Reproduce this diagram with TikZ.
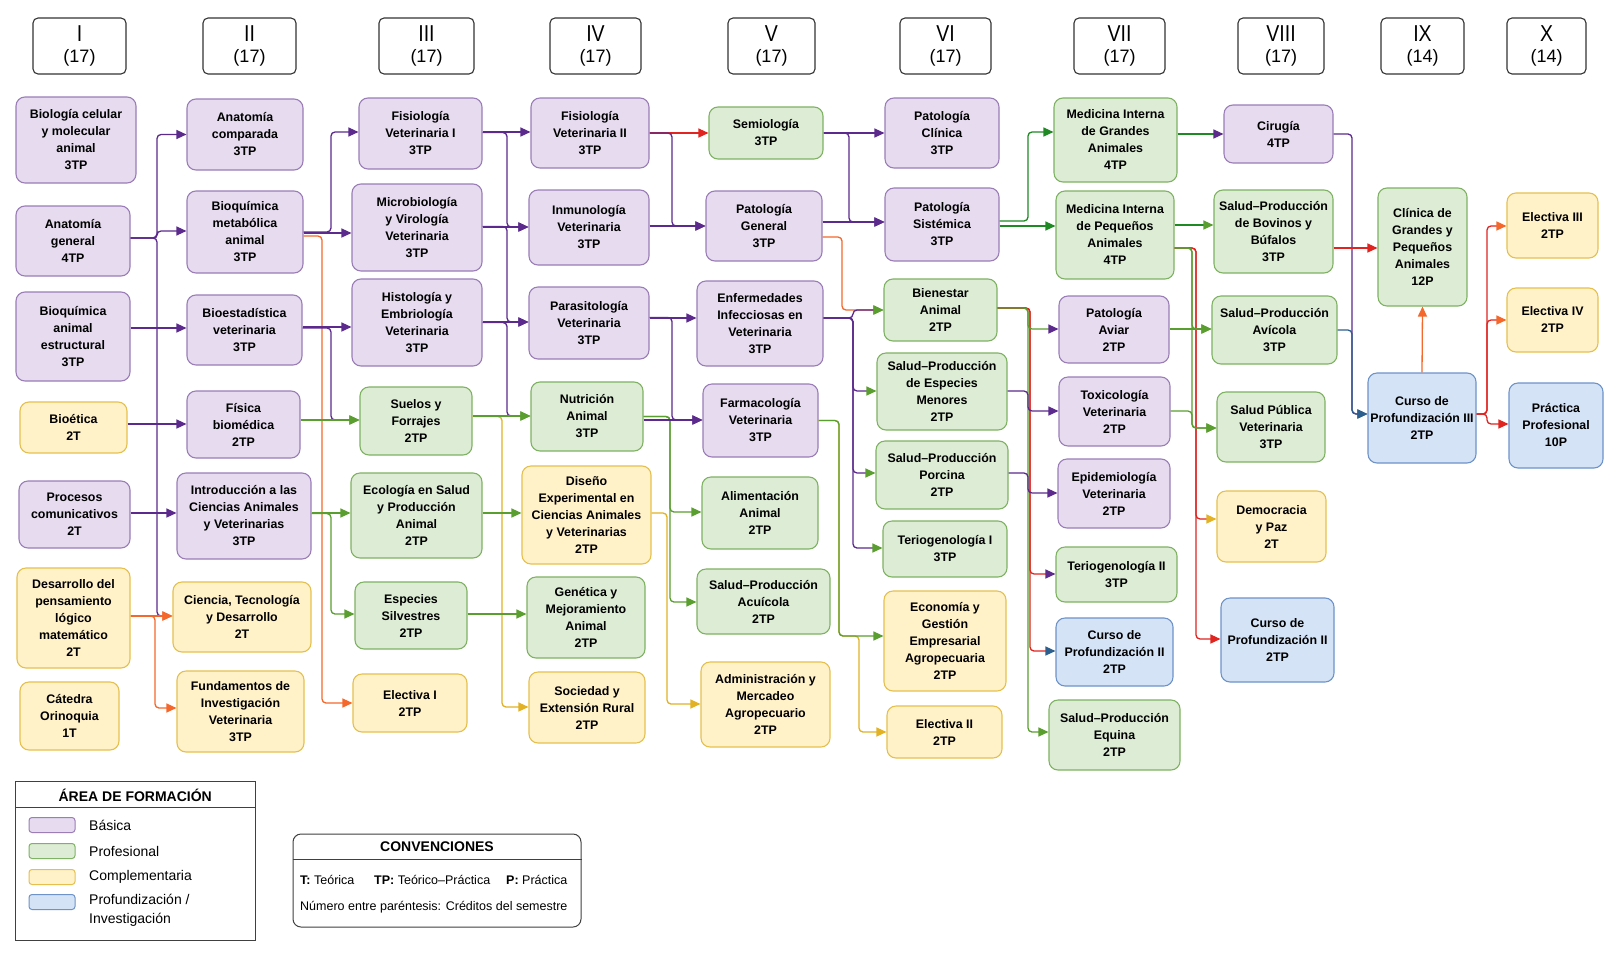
\documentclass[tikz,border=0pt]{standalone}
\usepackage{fontspec}
\setmainfont{Liberation Sans}
\usetikzlibrary{arrows.meta,calc}
\definecolor{fB}{HTML}{E6DBEF}\definecolor{dB}{HTML}{9B7DB8}
\definecolor{fP}{HTML}{DDEDD5}\definecolor{dP}{HTML}{7FB262}
\definecolor{fC}{HTML}{FFF2C9}\definecolor{dC}{HTML}{E5C04F}
\definecolor{fF}{HTML}{D5E3F6}\definecolor{dF}{HTML}{6D93C8}
\definecolor{cpu}{HTML}{5B2A8C}
\definecolor{cgr}{HTML}{5A9E2F}
\definecolor{cdg}{HTML}{1F8A24}
\definecolor{cor}{HTML}{F4682C}
\definecolor{cye}{HTML}{E2B224}
\definecolor{cre}{HTML}{E02420}
\definecolor{cbl}{HTML}{2C5F8E}
\newcommand\mbx[7]{\node[#1, minimum width=#5pt, minimum height=#6pt] (#2) at (#3,#4) {#7};}
% connector through a vertical trunk
\newcommand\lnk[6][]{\draw[#1] (#2.east) ++(0,#3) coordinate (lks) -- (lks -| #4) |- ($(#5.west)+(0,#6)$);}
% straight connector at the target's arrow height
\newcommand\slnk[4][]{\path ($(#3.west)+(0,#4)$) coordinate (lkt); \draw[#1] (lkt -| #2.east) -- (lkt);}
\newcommand\hdr[5]{%
  \node[hdbox, minimum width=#3pt] (#1) at (#2,46) {};
  \node (#1a) at (#2,34) {\fontsize{23}{23}\selectfont\scalebox{0.85}[1]{#4}};
  \node (#1b) at (#2,58) {\fontsize{18}{18}\selectfont #5};}
\begin{document}
\begin{tikzpicture}[x=1pt,y=-1pt,
  bxs/.style={draw, rounded corners=9pt, line width=1.1pt, align=center, inner sep=0pt,
    font=\bfseries\fontsize{12.4}{17}\selectfont},
  sB/.style={bxs, fill=fB, draw=dB},
  sP/.style={bxs, fill=fP, draw=dP},
  sC/.style={bxs, fill=fC, draw=dC},
  sF/.style={bxs, fill=fF, draw=dF},
  hdbox/.style={draw=black!80, rounded corners=5pt, line width=1.1pt, minimum height=56pt, fill=white},
  AH/.style 2 args={line width=1.3pt, rounded corners=4pt, draw=#1, -{Triangle[length=10pt,width=9pt,color=#2]}},
  eP/.style={AH={cpu}{cpu}},
  eG/.style={AH={cgr}{cgr}},
  eO/.style={AH={cor}{cor}},
  eY/.style={AH={cye}{cye}},
  eR/.style={AH={cre}{cre}},
  eD/.style={AH={cdg}{cdg}},
  sw/.style={rounded corners=3pt, line width=1pt, minimum width=46pt, minimum height=15pt, inner sep=0pt},
  lgl/.style={anchor=west, inner sep=0pt, font=\fontsize{14}{19}\selectfont, align=left},
  cvl/.style={anchor=west, inner sep=0pt, font=\fontsize{12.5}{15}\selectfont}
]
\path[fill=white] (0,0) rectangle (1619,972);
\useasboundingbox (0,0) rectangle (1619,972);

% headers
\hdr{h1}{79.5}{93}{I}{(17)}
\hdr{h2}{249.5}{93}{II}{(17)}
\hdr{h3}{426.5}{95}{III}{(17)}
\hdr{h4}{595.5}{91}{IV}{(17)}
\hdr{h5}{771.5}{87}{V}{(17)}
\hdr{h6}{945.5}{91}{VI}{(17)}
\hdr{h7}{1119.5}{91}{VII}{(17)}
\hdr{h8}{1281}{86}{VIII}{(17)}
\hdr{h9}{1422.5}{83}{IX}{(14)}
\hdr{h10}{1546.5}{79}{X}{(14)}

% column I
\mbx{sB}{bcm}{76}{140}{120}{86}{Biología celular\\y molecular\\animal\\3TP}
\mbx{sB}{ag}{73}{241}{114}{70}{Anatomía\\general\\4TP}
\mbx{sB}{bae}{73}{336.5}{114}{89}{Bioquímica\\animal\\estructural\\3TP}
\mbx{sC}{bio}{73.5}{427.5}{107}{51}{Bioética\\2T}
\mbx{sB}{pc}{74.5}{514.5}{111}{67}{Procesos\\comunicativos\\2T}
\mbx{sC}{dpl}{73.5}{618}{113}{100}{Desarrollo del\\pensamiento\\lógico\\matemático\\2T}
\mbx{sC}{co}{69.5}{716}{99}{68}{Cátedra\\Orinoquia\\1T}
% column II
\mbx{sB}{ac}{245}{134.5}{116}{71}{Anatomía\\comparada\\3TP}
\mbx{sB}{bma}{245}{232}{116}{82}{Bioquímica\\metabólica\\animal\\3TP}
\mbx{sB}{bev}{244.5}{330}{115}{70}{Bioestadística\\veterinaria\\3TP}
\mbx{sB}{fb}{243.5}{424.5}{113}{67}{Física\\biomédica\\2TP}
\mbx{sB}{icav}{244}{516}{134}{86}{Introducción a las\\Ciencias Animales\\y Veterinarias\\3TP}
\mbx{sC}{ctd}{242}{617}{138}{70}{Ciencia, Tecnología\\y Desarrollo\\2T}
\mbx{sC}{fiv}{240.5}{711.5}{127}{81}{Fundamentos de\\Investigación\\Veterinaria\\3TP}
% column III
\mbx{sB}{fv1}{420.5}{133.5}{123}{71}{Fisiología\\Veterinaria I\\3TP}
\mbx{sB}{mvv}{417}{227.5}{130}{87}{Microbiología\\y Virología\\Veterinaria\\3TP}
\mbx{sB}{hev}{417}{322.5}{130}{87}{Histología y\\Embriología\\Veterinaria\\3TP}
\mbx{sP}{syf}{416}{421}{112}{68}{Suelos y\\Forrajes\\2TP}
\mbx{sP}{espa}{416.5}{515.5}{131}{85}{Ecología en Salud\\y Producción\\Animal\\2TP}
\mbx{sP}{es}{411}{615.5}{112}{67}{Especies\\Silvestres\\2TP}
\mbx{sC}{e1}{410}{703}{114}{58}{Electiva I\\2TP}
% column IV
\mbx{sB}{fv2}{590}{133}{118}{70}{Fisiología\\Veterinaria II\\3TP}
\mbx{sB}{iv}{589}{227.5}{120}{75}{Inmunología\\Veterinaria\\3TP}
\mbx{sB}{pv}{589}{323}{120}{72}{Parasitología\\Veterinaria\\3TP}
\mbx{sP}{na}{587}{416.5}{112}{69}{Nutrición\\Animal\\3TP}
\mbx{sC}{de}{586.5}{515}{129}{98}{Diseño\\Experimental en\\Ciencias Animales\\y Veterinarias\\2TP}
\mbx{sP}{gma}{586}{617.5}{118}{81}{Genética y\\Mejoramiento\\Animal\\2TP}
\mbx{sC}{ser}{587}{707.5}{116}{71}{Sociedad y\\Extensión Rural\\2TP}
% column V
\mbx{sP}{sem}{766}{133}{114}{52}{Semiología\\3TP}
\mbx{sB}{pg}{764}{226}{116}{70}{Patología\\General\\3TP}
\mbx{sB}{eiv}{760}{323.5}{126}{85}{Enfermedades\\Infecciosas en\\Veterinaria\\3TP}
\mbx{sB}{fav}{760.5}{420.5}{115}{73}{Farmacología\\Veterinaria\\3TP}
\mbx{sP}{aa}{760}{513}{116}{72}{Alimentación\\Animal\\2TP}
\mbx{sP}{spa}{763.5}{601.5}{133}{65}{Salud–Producción\\Acuícola\\2TP}
\mbx{sC}{ama}{765.5}{704.5}{129}{85}{Administración y\\Mercadeo\\Agropecuario\\2TP}
% column VI
\mbx{sB}{pcl}{942}{133}{114}{70}{Patología\\Clínica\\3TP}
\mbx{sB}{ps}{942}{224.5}{114}{73}{Patología\\Sistémica\\3TP}
\mbx{sP}{ba}{940.5}{310}{113}{62}{Bienestar\\Animal\\2TP}
\mbx{sP}{spem}{942}{391.5}{130}{77}{Salud–Producción\\de Especies\\Menores\\2TP}
\mbx{sP}{spp}{942}{475}{132}{68}{Salud–Producción\\Porcina\\2TP}
\mbx{sP}{t1}{945}{549}{124}{56}{Teriogenología I\\3TP}
\mbx{sC}{egea}{945}{641}{122}{100}{Economía y\\Gestión\\Empresarial\\Agropecuaria\\2TP}
\mbx{sC}{e2}{944.5}{732}{115}{52}{Electiva II\\2TP}
% column VII
\mbx{sP}{mig}{1115.5}{140}{123}{84}{Medicina Interna\\de Grandes\\Animales\\4TP}
\mbx{sP}{mip}{1115}{235}{118}{88}{Medicina Interna\\de Pequeños\\Animales\\4TP}
\mbx{sB}{pav}{1114}{329.5}{110}{67}{Patología\\Aviar\\2TP}
\mbx{sB}{tv}{1114.5}{411.5}{111}{69}{Toxicología\\Veterinaria\\2TP}
\mbx{sB}{epv}{1114}{493.5}{112}{69}{Epidemiología\\Veterinaria\\2TP}
\mbx{sP}{t2}{1116.5}{574.5}{121}{55}{Teriogenología II\\3TP}
\mbx{sF}{cp2a}{1114.5}{652}{117}{68}{Curso de\\Profundización II\\2TP}
\mbx{sP}{spe}{1114.5}{735}{131}{70}{Salud–Producción\\Equina\\2TP}
% column VIII
\mbx{sB}{cir}{1278.5}{134}{109}{58}{Cirugía\\4TP}
\mbx{sP}{spb}{1273.5}{231.5}{119}{83}{Salud–Producción\\de Bovinos y\\Búfalos\\3TP}
\mbx{sP}{spav}{1274.5}{330}{125}{68}{Salud–Producción\\Avícola\\3TP}
\mbx{sP}{spv}{1271}{427}{108}{70}{Salud Pública\\Veterinaria\\3TP}
\mbx{sC}{dyp}{1271.5}{526.5}{109}{71}{Democracia\\y Paz\\2T}
\mbx{sF}{cp2b}{1277.5}{640}{113}{84}{Curso de\\Profundización II\\2TP}
% column IX
\mbx{sP}{cgpa}{1422.5}{247}{89}{118}{Clínica de\\Grandes y\\Pequeños\\Animales\\12P}
\mbx{sF}{cp3}{1422}{418}{108}{90}{Curso de\\Profundización III\\2TP}
% column X
\mbx{sC}{e3}{1552.5}{225.5}{91}{65}{Electiva III\\2TP}
\mbx{sC}{e4}{1552.5}{320}{91}{64}{Electiva IV\\2TP}
\mbx{sF}{pp}{1556}{425.5}{94}{85}{Práctica\\Profesional\\10P}

% trunk positions
\coordinate (tA) at (157,0);  \coordinate (tA2) at (155,0);
\coordinate (tB) at (331,0);  \coordinate (tB2) at (322,0);
\coordinate (tC) at (507,0);  \coordinate (tC2) at (502,0);
\coordinate (tD) at (672,0);  \coordinate (tD2) at (670,0); \coordinate (tD3) at (667,0);
\coordinate (tE) at (849,0);  \coordinate (tE2) at (842,0); \coordinate (tE3) at (853,0); \coordinate (tE4) at (839,0);
\coordinate (jE) at (859,636);
\coordinate (tF) at (1028,0); \coordinate (tF2) at (1030,0);
\coordinate (tG) at (1192,0); \coordinate (tG2) at (1196,0);
\coordinate (tH) at (1352,0);
\coordinate (tI) at (1487,0);

% I -> II
\lnk[AH={cpu}{cor}]{ag}{-3}{tA}{ctd}{-1}
\slnk[eO]{dpl}{ctd}{-1}
\lnk[eO]{dpl}{-2}{tA2}{fiv}{-3.5}
\lnk[eP]{ag}{-3}{tA}{ac}{0}
\lnk[eP]{ag}{-3}{tA}{bma}{-1}
\slnk[eP]{bae}{bev}{-2}
\slnk[eP]{bio}{fb}{-0.5}
\slnk[eP]{pc}{icav}{-3}
% II -> III
\lnk[eO]{bma}{4}{tB2}{e1}{0}
\slnk[eG]{icav}{espa}{-2.5}
\lnk[eG]{icav}{-2.5}{tB}{es}{-1.5}
\lnk[AH={cpu}{cgr}]{bev}{-2}{tB}{syf}{-1}
\slnk[eG]{fb}{syf}{-1}
\lnk[eP]{bma}{0}{tB}{fv1}{-1.5}
\slnk[eP]{bma}{mvv}{5.5}
\slnk[eP]{bev}{hev}{4.5}
% III -> IV
\lnk[eY]{syf}{-4.5}{tC2}{ser}{-0.5}
\slnk[eG]{espa}{de}{-2}
\slnk[eG]{es}{gma}{-3.5}
\lnk[AH={cpu}{cgr}]{hev}{0}{tC}{na}{-0.5}
\slnk[eG]{syf}{na}{-0.5}
\slnk[eP]{fv1}{fv2}{-1}
\lnk[eP]{fv1}{-1}{tC}{iv}{-0.5}
\slnk[eP]{mvv}{iv}{-0.5}
\lnk[eP]{mvv}{-1}{tC}{pv}{-1}
\slnk[eP]{hev}{pv}{-1}
% IV -> V
\lnk[eY]{de}{-2}{tD3}{ama}{-0.5}
\lnk[eG]{na}{0}{tD2}{aa}{-1}
\lnk[eG]{na}{0}{tD2}{spa}{0.5}
\slnk[eR]{fv2}{sem}{0}
\lnk[eP]{fv2}{0}{tD}{pg}{0}
\slnk[eP]{iv}{pg}{0}
\slnk[eP]{pv}{eiv}{-5.5}
\lnk[eP]{pv}{-5.5}{tD}{fav}{-0.5}
\slnk[eP]{na}{fav}{-0.5}
% V -> VI
\draw[eY] (fav.east) -- (tE4 |- fav.east) -- (tE4 |- jE) -- (jE) |- (e2.west);
\lnk[eG]{fav}{0}{tE4}{egea}{-5}
\lnk[AH={cor}{cgr}]{pg}{11}{tE2}{ba}{0}
\lnk[AH={cpu}{cgr}]{eiv}{-5.5}{tE3}{ba}{0}
\lnk[AH={cpu}{cgr}]{eiv}{-5.5}{tE3}{spem}{-0.5}
\lnk[AH={cpu}{cgr}]{eiv}{-5.5}{tE3}{spp}{-2}
\lnk[AH={cpu}{cgr}]{eiv}{-5.5}{tE3}{t1}{-1}
\slnk[eP]{sem}{pcl}{0}
\lnk[eP]{sem}{0}{tE}{ps}{-2.5}
\slnk[eP]{pg}{ps}{-2.5}
% VI -> VII
\lnk[eG]{ba}{-2}{tF}{spe}{-3}
\lnk[AH={cre}{cpu}]{ba}{-2}{tF2}{t2}{-0.5}
\lnk[AH={cre}{cbl}]{ba}{-2}{tF2}{cp2a}{-1}
\lnk[AH={cgr}{cpu}]{ba}{-2}{tF}{pav}{-0.5}
\lnk[eP]{spem}{-0.5}{tF}{tv}{-0.5}
\lnk[eP]{spp}{-2}{tF}{epv}{-0.5}
\lnk[eD]{ps}{-3.5}{tF}{mig}{-8}
\slnk[eD]{ps}{mip}{-9}
% VII -> VIII
\lnk[AH={cre}{cye}]{mip}{13}{tG2}{dyp}{-7.5}
\lnk[eR]{mip}{13}{tG2}{cp2b}{-1}
\lnk[eG]{mip}{13}{tG}{spav}{-1}
\lnk[eG]{mip}{13}{tG}{spv}{1}
\slnk[eG]{pav}{spav}{-1}
\lnk[eG]{tv}{-0.5}{tG}{spv}{1}
\slnk[AH={cdg}{cpu}]{mig}{cir}{0}
\slnk[AH={cdg}{cgr}]{mip}{spb}{-6.5}
% VIII -> IX
\lnk[AH={cpu}{cbl}]{cir}{0}{tH}{cp3}{-4}
\lnk[AH={cbl}{cbl}]{spav}{0}{tH}{cp3}{-4}
\slnk[eR]{spb}{cgpa}{1}
\draw[eO] (cp3.north) -- (cgpa.south);
% IX -> X
\lnk[eR]{cp3}{-4}{tI}{pp}{-1.5}
\lnk[AH={cre}{cor}]{cp3}{-4}{tI}{e3}{0.5}
\lnk[AH={cre}{cor}]{cp3}{-4}{tI}{e4}{0}

% legend
\node[draw=black!75, line width=1pt, minimum width=239.5pt, minimum height=159pt, inner sep=0pt] (lg) at (135.25,860.5) {};
\draw[black!75, line width=1pt] ($(lg.north west)+(0,27)$) -- ($(lg.north east)+(0,27)$);
\node[font=\bfseries\fontsize{14}{14}\selectfont] (lgt) at (135.25,795) {ÁREA DE FORMACIÓN};
\node[sw, fill=fB, draw=dB] (sw1) at (52,825) {};
\node[sw, fill=fP, draw=dP] (sw2) at (52,851) {};
\node[sw, fill=fC, draw=dC] (sw3) at (52,877) {};
\node[sw, fill=fF, draw=dF] (sw4) at (52,902) {};
\node[lgl] (lb1) at (89,825) {Básica};
\node[lgl] (lb2) at (89,851) {Profesional};
\node[lgl] (lb3) at (89,877) {Complementaria};
\node[lgl, anchor=north west] (lb4) at (89,894) {Profundización /\\Investigación};

% conventions
\node[draw=black!75, line width=1pt, rounded corners=8pt, minimum width=288pt, minimum height=93pt, inner sep=0pt] (cv) at (437,880.5) {};
\draw[black!75, line width=1pt] ($(cv.north west)+(0,26)$) -- ($(cv.north east)+(0,26)$);
\node[font=\bfseries\fontsize{14}{14}\selectfont] (cvt) at (437,847) {CONVENCIONES};
\node[cvl] (cv1) at (300,880) {\textbf{T:} Teórica};
\node[cvl] (cv2) at (374,880) {\textbf{TP:} Teórico–Práctica};
\node[cvl] (cv3) at (506,880) {\textbf{P:} Práctica};
\node[cvl] (cv4) at (300,907) {Número entre paréntesis: Créditos del semestre};
\end{tikzpicture}
\end{document}
